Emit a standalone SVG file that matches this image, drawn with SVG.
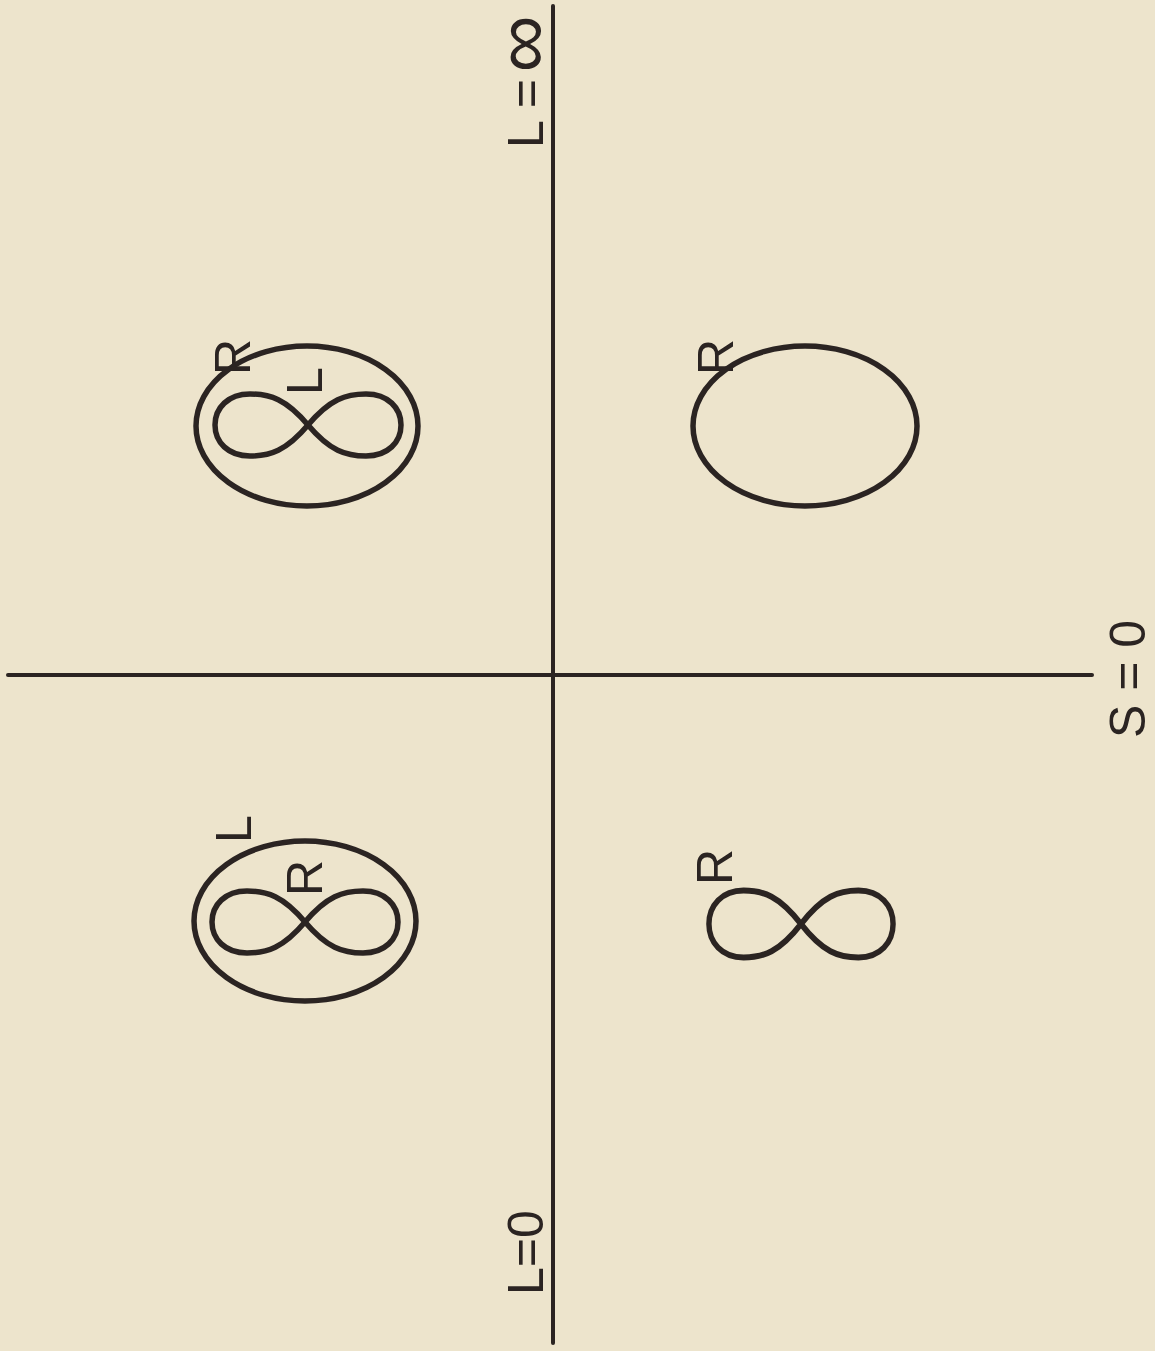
<svg xmlns="http://www.w3.org/2000/svg" width="1155" height="1351" viewBox="0 0 1155 1351">
<style>
.ln{stroke:#2b2422;stroke-width:4;fill:none;stroke-linecap:round}
.sh{stroke:#2b2422;stroke-width:5.5;fill:none}
.t{font-family:"Liberation Sans",Arial,sans-serif;font-size:50px;fill:#2b2422}
</style>
<defs>
<path id="inf" d="M0 0 C22 -26 38 -31 58 -31 C80 -31 93 -17 93 0 C93 17 80 31 58 31 C38 31 22 26 0 0 C-22 -26 -38 -31 -58 -31 C-80 -31 -93 -17 -93 0 C-93 17 -80 31 -58 31 C-38 31 -22 26 0 0 Z"/>
</defs>
<rect width="1155" height="1351" fill="#ede4cc"/>
<g id="axes">
<line class="ln" x1="553" y1="6" x2="553" y2="1343"/>
<line class="ln" x1="8" y1="675" x2="1092" y2="675"/>
</g>
<g id="labels">
<text class="t" transform="translate(543,148) rotate(-90)">L =</text>
<text class="t" transform="translate(549,44) rotate(-90)" text-anchor="middle" style="font-size:80px">∞</text>
<text class="t" transform="translate(543,1295) rotate(-90)">L=0</text>
<text class="t" transform="translate(1145,738) rotate(-90)">S = 0</text>
</g>
<g id="q-upper-left">
<ellipse class="sh" cx="307" cy="426" rx="111" ry="80"/>
<use href="#inf" class="sh" transform="translate(308,425)"/>
<text class="t" transform="translate(322,395) rotate(-90)">L</text>
<text class="t" transform="translate(250,375) rotate(-90)">R</text>
</g>
<g id="q-lower-left">
<ellipse class="sh" cx="305" cy="921" rx="111" ry="80"/>
<use href="#inf" class="sh" transform="translate(305,922)"/>
<text class="t" transform="translate(322,896) rotate(-90)">R</text>
<text class="t" transform="translate(251,843) rotate(-90)">L</text>
</g>
<g id="q-upper-right">
<ellipse class="sh" cx="805" cy="426" rx="112" ry="80"/>
<text class="t" transform="translate(733,375) rotate(-90)">R</text>
</g>
<g id="q-lower-right">
<use href="#inf" class="sh" transform="translate(801,924) scale(0.99,1.08)"/>
<text class="t" transform="translate(732,885) rotate(-90)">R</text>
</g>
</svg>
